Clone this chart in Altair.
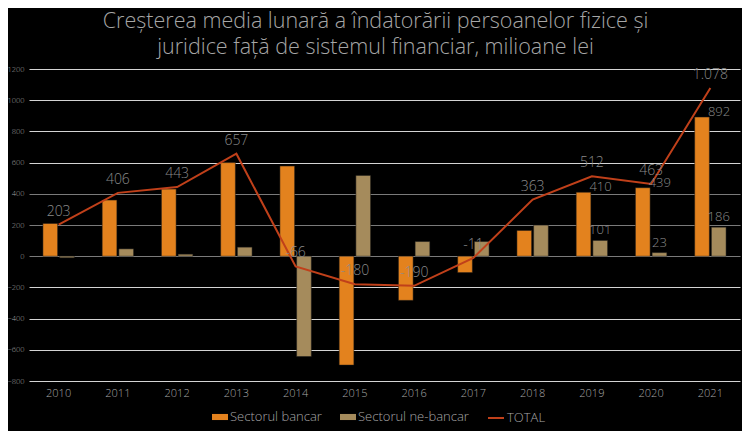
import altair as alt
import pandas as pd

years = ["2010", "2011", "2012", "2013", "2014", "2015", "2016", "2017", "2018", "2019", "2020", "2021"]
bancar = [210, 360, 430, 600, 578, -698, -283, -105, 165, 410, 439, 892]
nebancar = [-10, 47, 13, 58, -643, 518, 94, 94, 199, 101, 23, 186]
total = [203, 406, 443, 657, -66, -180, -190, -11, 363, 512, 463, 1078]
series = ["Sectorul bancar", "Sectorul ne-bancar"]
labelled_years = ["2019", "2020", "2021"]
y_ticks = [-800, -600, -400, -200, 0, 200, 400, 600, 800, 1000, 1200]


def ro_fmt(v):
    s = f"{abs(v):,}".replace(",", ".")
    return ("-" if v < 0 else "") + s


bars = pd.DataFrame(
    {
        "year": years * 2,
        "series": [series[0]] * len(years) + [series[1]] * len(years),
        "value": bancar + nebancar,
    }
)
bars["label"] = bars["value"].map(ro_fmt)
tot = pd.DataFrame({"year": years, "value": total, "series": ["TOTAL"] * len(years)})
tot["label"] = tot["value"].map(ro_fmt)

FONT = "Open Sans"
W = 300
GREY = "#a6a6a6"
LABEL = "#8a8a8a"
ORANGE = "#e3821e"
TAN = "#a58b5c"
RED = "#c0401a"

xenc = alt.X(
    "year:N",
    sort=years,
    scale=alt.Scale(paddingInner=0.47, paddingOuter=0.235),
    axis=alt.Axis(
        title=None,
        labelAngle=0,
        ticks=False,
        domain=False,
        labelColor=GREY,
        labelFontSize=11,
        labelFont=FONT,
        labelFontWeight=W,
        labelPadding=6,
        grid=False,
    ),
)
yscale = alt.Scale(domain=[-800, 1200], nice=False)
yenc = alt.Y(
    "value:Q",
    scale=yscale,
    axis=alt.Axis(
        title=None,
        values=y_ticks,
        format="d",
        ticks=False,
        domain=False,
        labelOverlap=False,
        labelColor=GREY,
        labelFontSize=7.5,
        labelFont=FONT,
        labelFontWeight=W,
        labelPadding=5,
        gridColor=alt.condition(
            "datum.value >= 0 && datum.value <= 400",
            alt.value("#7a7a7a"),
            alt.value("#d4d4d4"),
        ),
        gridWidth=1,
    ),
)

off_enc = alt.XOffset("series:N", sort=series, scale=alt.Scale(paddingInner=0.12))

bar_layer = alt.Chart(bars).mark_bar(stroke="#1a1a1a", strokeWidth=0.5).encode(
    x=xenc,
    xOffset=off_enc,
    y=yenc,
    fill=alt.Fill(
        "series:N",
        sort=series,
        scale=alt.Scale(domain=series, range=[ORANGE, TAN]),
        legend=alt.Legend(
            title=None,
            orient="none",
            legendX=183,
            legendY=340,
            direction="horizontal",
            symbolType="M-1,-0.38H1V0.38H-1Z",
            symbolSize=256,
            symbolStrokeWidth=0,
            labelColor=GREY,
            labelFontSize=13,
            labelFont=FONT,
            labelFontWeight=W,
            labelOffset=2,
            columnPadding=18,
        ),
    ),
)

line_layer = alt.Chart(tot).mark_line(strokeWidth=2).encode(
    x=xenc,
    y=yenc,
    stroke=alt.Stroke(
        "series:N",
        scale=alt.Scale(domain=["TOTAL"], range=[RED]),
        legend=alt.Legend(
            title=None,
            orient="none",
            legendX=458,
            legendY=340,
            symbolType="stroke",
            symbolSize=256,
            symbolStrokeWidth=2,
            labelColor=GREY,
            labelFontSize=13,
            labelFont=FONT,
            labelFontWeight=W,
            labelOffset=2,
        ),
    ),
)

total_text = alt.Chart(tot).mark_text(
    dy=-13, fontSize=14, font=FONT, fontWeight=W, color=LABEL, baseline="middle"
).encode(x=xenc, y=yenc, text="label:N")

bank_text = alt.Chart(bars).transform_filter(
    alt.FieldOneOfPredicate(field="year", oneOf=labelled_years)
).transform_filter(
    alt.FieldEqualPredicate(field="series", equal=series[0])
).mark_text(
    dx=17, dy=-5, fontSize=13, font=FONT, fontWeight=W, color=LABEL, baseline="middle"
).encode(x=xenc, xOffset=off_enc, y=yenc, text="label:N")

nonbank_text = alt.Chart(bars).transform_filter(
    alt.FieldOneOfPredicate(field="year", oneOf=labelled_years)
).transform_filter(
    alt.FieldEqualPredicate(field="series", equal=series[1])
).mark_text(
    dy=-10, fontSize=13, font=FONT, fontWeight=W, color=LABEL, baseline="middle"
).encode(x=xenc, xOffset=off_enc, y=yenc, text="label:N")

chart = (
    alt.layer(bar_layer, line_layer, total_text, bank_text, nonbank_text)
    .resolve_scale(fill="independent", stroke="independent")
    .properties(
        width=711,
        height=312,
        background="#000000",
        padding={"left": 21, "top": 61, "right": 2, "bottom": 50},
        autosize=alt.AutoSizeParams(type="none"),
        title=alt.TitleParams(
            text=[
                "Creșterea media lunară a îndatorării persoanelor fizice și",
                "juridice față de sistemul financiar, milioane lei",
            ],
            color=GREY,
            fontSize=21.5,
            font=FONT,
            fontWeight=W,
            anchor="middle",
            offset=7,
            dx=-9,
            lineHeight=26,
        ),
    )
    .configure_view(stroke=None)
)

chart.save("out.html", embed_options={"renderer": "svg", "actions": False})
